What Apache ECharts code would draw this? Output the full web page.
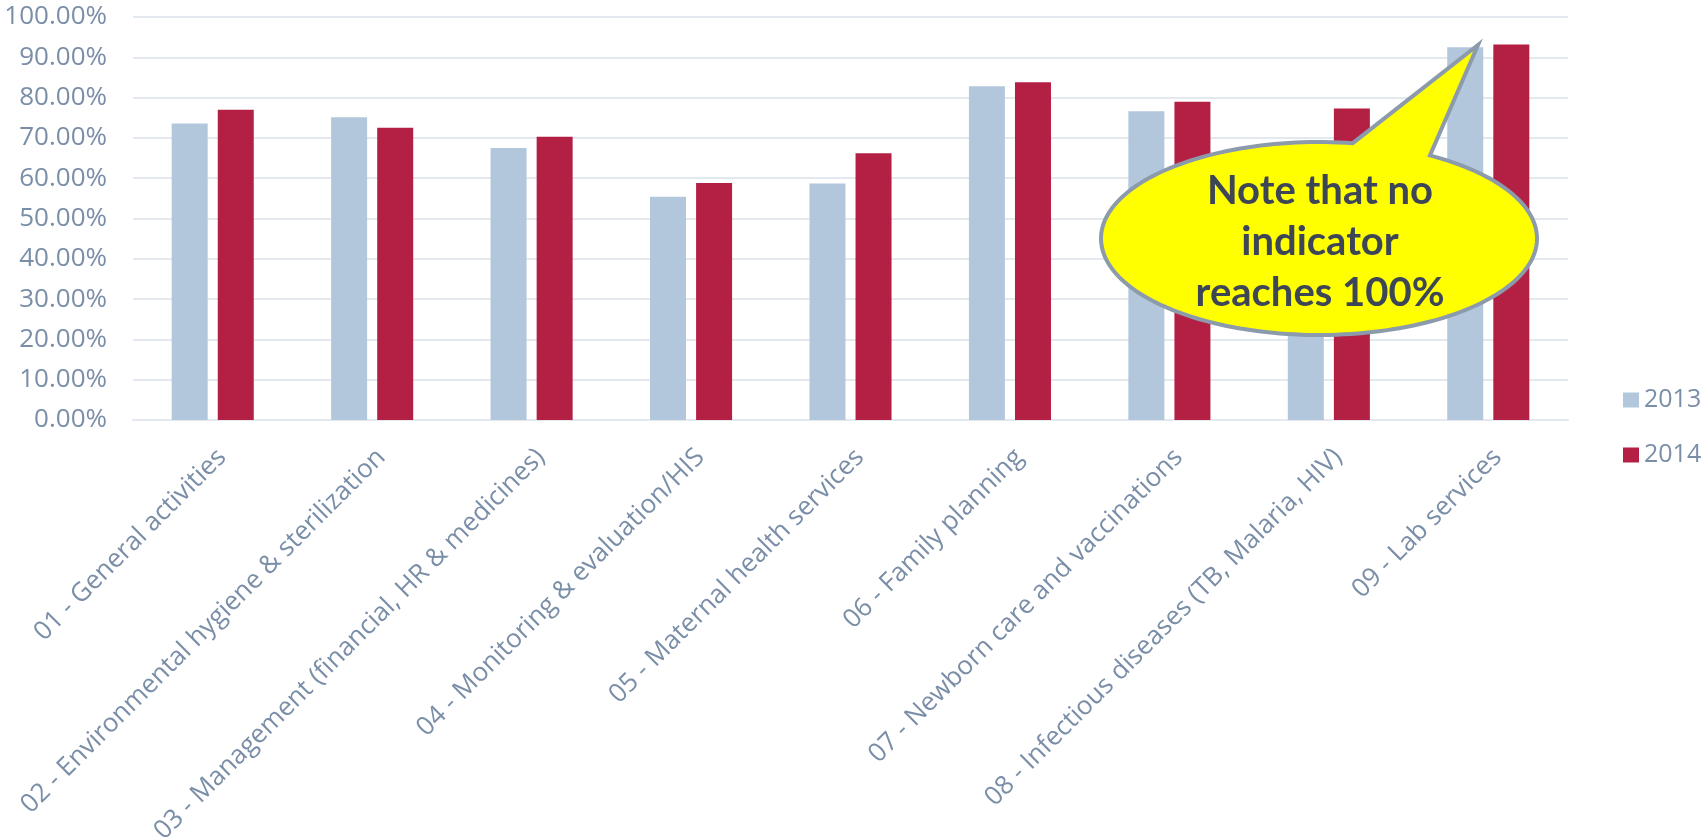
<!DOCTYPE html>
<html>
<head>
<meta charset="utf-8">
<title>Indicator scores 2013 vs 2014</title>
<script src="https://cdn.jsdelivr.net/npm/echarts@6/dist/echarts.min.js"></script>
<style>
  html, body { margin: 0; padding: 0; background: #ffffff; }
  #chart { width: 1708px; height: 840px; }
</style>
</head>
<body>
<div id="chart"></div>
<script>
// Categories (areas of assessment)
const categories = [
  '01 - General activities',
  '02 - Environmental hygiene & sterilization',
  '03 - Management (financial, HR & medicines)',
  '04 - Monitoring & evaluation/HIS',
  '05 - Maternal health services',
  '06 - Family planning',
  '07 - Newborn care and vaccinations',
  '08 - Infectious diseases (TB, Malaria, HIV)',
  '09 - Lab services'
];

// Scores in percent
const scores2013 = [73.6, 75.1, 67.5, 55.4, 58.7, 82.8, 76.6, 65.0, 92.5];
const scores2014 = [77.0, 72.5, 70.3, 58.8, 66.2, 83.8, 79.0, 77.3, 93.2];

const seriesNames = ['2013', '2014'];

// Value axis ticks
const yMin = 0;
const yMax = 100;
const yStep = 10;

// Callout text
const calloutLines = ['Note that no', 'indicator', 'reaches 100%'];

const labelColor = '#7a8ea8';
const gridColor = '#e4e9ef';
const colors = ['#b2c7dc', '#b41f44'];

// Speech-bubble outline: ellipse body plus a pointed tail
const bubble = { cx: 1319, cy: 238.5, rx: 218, ry: 96.5 };
const tailBaseRight = [1430, 155.4];
const tailBaseLeft = [1353, 142.6];
const tailTip = [1478, 45];

function bubbleOutline() {
  const ang = function (p) {
    return Math.atan2((p[1] - bubble.cy) / bubble.ry, (p[0] - bubble.cx) / bubble.rx);
  };
  const a0 = ang(tailBaseRight);
  let a1 = ang(tailBaseLeft);
  while (a1 <= a0) a1 += Math.PI * 2;
  const pts = [];
  const steps = 180;
  for (let i = 0; i <= steps; i++) {
    const a = a0 + (a1 - a0) * i / steps;
    pts.push([bubble.cx + bubble.rx * Math.cos(a), bubble.cy + bubble.ry * Math.sin(a)]);
  }
  pts.push(tailTip.slice());
  return pts;
}

const chart = echarts.init(document.getElementById('chart'));

chart.setOption({
  animation: false,
  backgroundColor: '#ffffff',
  textStyle: { fontFamily: 'Open Sans' },
  grid: {
    left: 133, right: 140, top: 17, bottom: 420,
    containLabel: false,
    outerBoundsMode: 'none'
  },
  legend: {
    orient: 'vertical',
    left: 1618,
    top: 381,
    data: seriesNames,
    icon: 'rect',
    itemWidth: 16,
    itemHeight: 15,
    itemGap: 27,
    itemTextGap: 6,
    textStyle: { color: labelColor, fontSize: 25, fontFamily: 'Open Sans', lineHeight: 28 }
  },
  xAxis: {
    type: 'category',
    data: categories,
    axisLine: { show: true, lineStyle: { color: gridColor, width: 2 } },
    axisTick: { show: false },
    axisLabel: {
      interval: 0,
      rotate: 45,
      margin: 24,
      verticalAlign: 'top',
      color: labelColor,
      fontSize: 26,
      fontFamily: 'Open Sans'
    }
  },
  yAxis: {
    type: 'value',
    min: yMin,
    max: yMax,
    interval: yStep,
    axisLine: { show: false },
    axisTick: { show: false },
    splitLine: { lineStyle: { color: gridColor, width: 2 } },
    axisLabel: {
      margin: 26,
      color: labelColor,
      fontSize: 26,
      fontFamily: 'Open Sans',
      formatter: function (v) { return v.toFixed(2) + '%'; }
    }
  },
  series: [
    {
      name: seriesNames[0],
      type: 'bar',
      data: scores2013,
      barWidth: 36,
      barGap: '28%',
      itemStyle: { color: colors[0] }
    },
    {
      name: seriesNames[1],
      type: 'bar',
      data: scores2014,
      barWidth: 36,
      barGap: '28%',
      itemStyle: { color: colors[1] }
    }
  ],
  graphic: [
    {
      type: 'polygon',
      z: 100,
      shape: { points: bubbleOutline() },
      style: { fill: '#ffff00', stroke: '#8c9bab', lineWidth: 4, lineJoin: 'miter' }
    },
    {
      type: 'text',
      z: 101,
      x: 1320,
      y: 242,
      style: {
        text: calloutLines.join('\n'),
        fill: '#3c4656',
        fontFamily: 'Lato',
        fontWeight: 'bold',
        fontSize: 40,
        lineHeight: 51,
        align: 'center',
        verticalAlign: 'middle'
      }
    }
  ]
});
</script>
</body>
</html>
